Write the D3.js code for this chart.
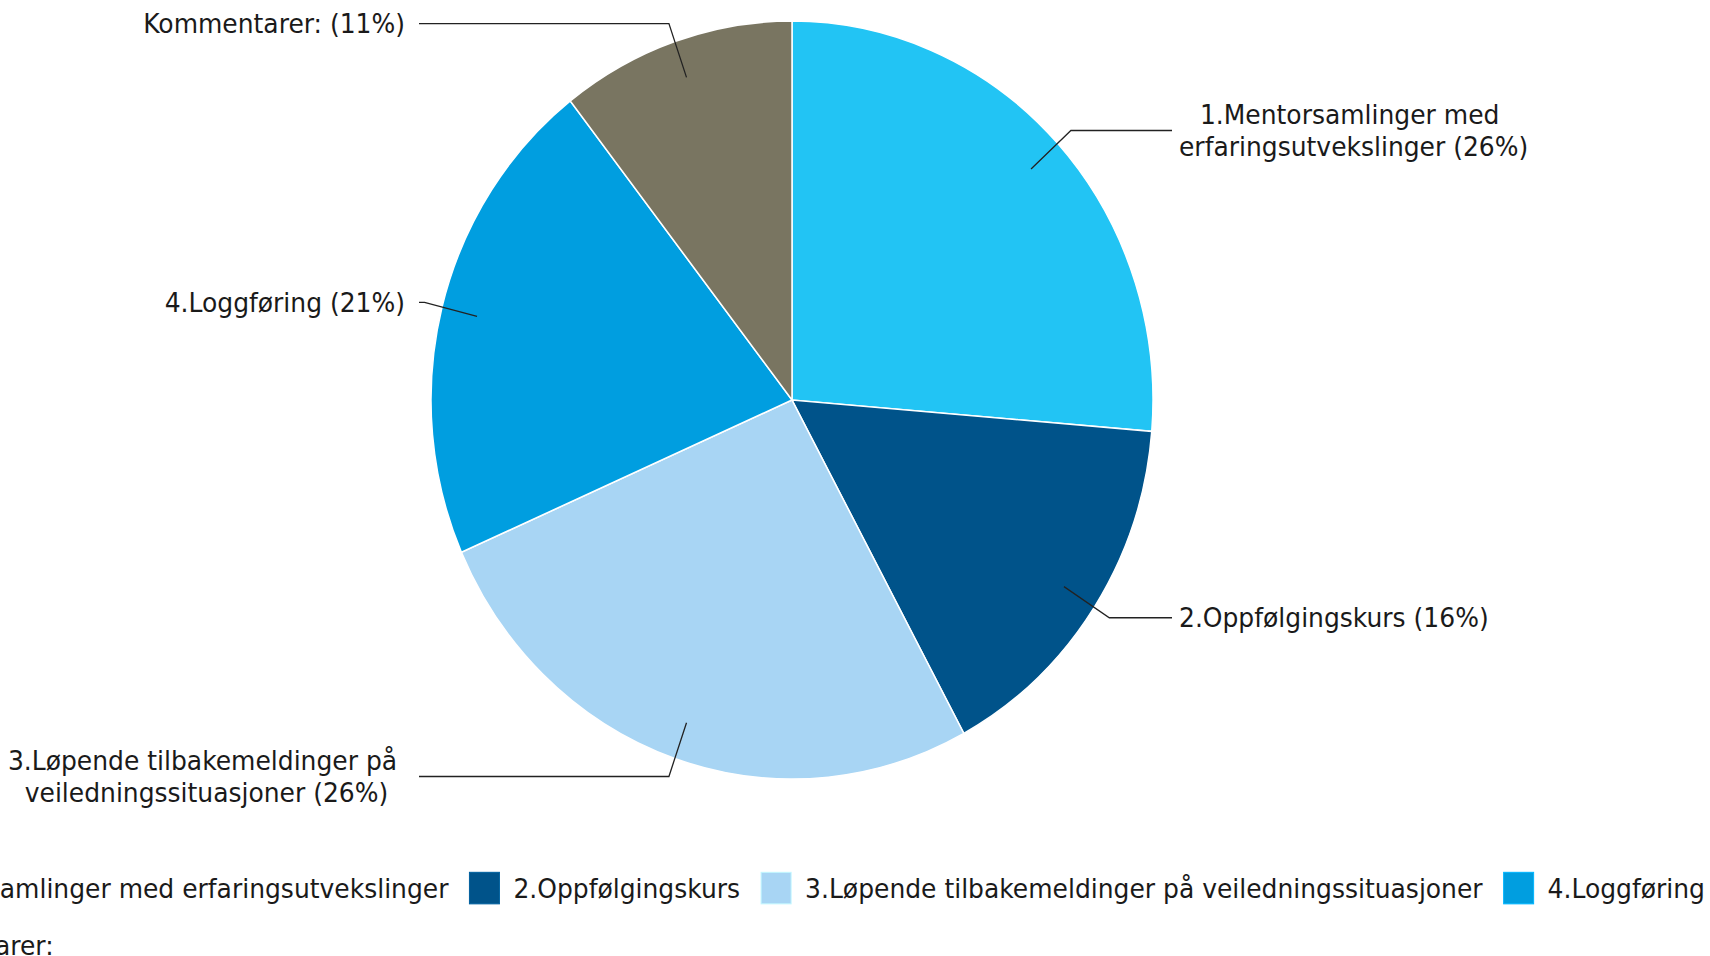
<!doctype html>
<html>
<head>
  <meta charset="utf-8">
  <title>Pie</title>
  <style>
    html, body { margin: 0; padding: 0; background: #fff; overflow: hidden; }
    text { font-family: 'DejaVu Sans', Verdana, sans-serif; fill: #1a1a1a; }
  </style>
</head>
<body>
  <div id="chart"></div>
  <script src="https://cdnjs.cloudflare.com/ajax/libs/d3/7.8.5/d3.min.js"></script>
  <script>
    // data
    var categories = [
      "1.Mentorsamlinger med erfaringsutvekslinger",
      "2.Oppfølgingskurs",
      "3.Løpende tilbakemeldinger på veiledningssituasjoner",
      "4.Loggføring",
      "Kommentarer:"
    ];
    var values = [5, 3, 5, 4, 2];
    var colors = ["#22c4f4", "#00538a", "#a8d5f4", "#009ee0", "#797561"];

    var width = 1710, height = 956;
    var stretch = 1.05; // picture is slightly taller than wide
    var vh = height / stretch;
    var cx = 792, cy = 381, R = 361;
    var fontSize = 25, lineH = 30.5;

    var svg = d3.select("#chart").append("svg")
      .attr("width", width).attr("height", height)
      .attr("viewBox", `0 0 ${width} ${vh}`)
      .attr("preserveAspectRatio", "none");

    var total = d3.sum(values);
    var data = values.map((v, i) => ({ name: categories[i], value: v, color: colors[i] }));
    var pie = d3.pie().sort(null).value(d => d.value);
    var arcs = pie(data);

    var arc = d3.arc().innerRadius(0).outerRadius(R);
    var innerArc = d3.arc().innerRadius(R * 0.9).outerRadius(R * 0.9);
    var outerArc = d3.arc().innerRadius(R * 1.05).outerRadius(R * 1.05);

    var g = svg.append("g").attr("transform", `translate(${cx},${cy})`);

    g.selectAll("path.slice")
      .data(arcs)
      .join("path")
      .attr("class", "slice")
      .attr("d", arc)
      .attr("fill", d => d.data.color)
      .attr("stroke", "#fff")
      .attr("stroke-width", 1.5);

    // labels with leader lines
    var rightX = 1172 - cx, leftX = 419 - cx;
    var labels = svg.append("g").attr("transform", `translate(${cx},${cy})`);

    function measure(str) {
      var t = svg.append("text").attr("font-size", fontSize).text(str);
      var w = t.node().getComputedTextLength();
      t.remove();
      return w;
    }

    function wrap(str, maxW) {
      var words = str.split(" "), lines = [], cur = "";
      words.forEach(w => {
        var test = cur ? cur + " " + w : w;
        if (cur && measure(test) > maxW) { lines.push(cur + "\u00A0"); cur = w; }
        else cur = test;
      });
      lines.push(cur);
      return lines;
    }

    arcs.forEach(d => {
      var mid = (d.startAngle + d.endAngle) / 2;
      var right = mid < Math.PI;
      var p0 = innerArc.centroid(d), p1 = outerArc.centroid(d);
      var xEnd = right ? rightX : leftX;

      labels.append("polyline")
        .attr("points", [p0, p1, [xEnd, p1[1]]].map(p => p.join(",")).join(" "))
        .attr("fill", "none")
        .attr("stroke", "#222")
        .attr("stroke-width", 1.3);

      var pct = Math.round(d.data.value / total * 100);
      var lines = wrap(`${d.data.name} (${pct}%)`, 405);
      var blockW = d3.max(lines, measure);
      var centerX = right ? xEnd + 7 + blockW / 2 : xEnd - 14 - blockW / 2;

      var txt = labels.append("text")
        .attr("font-size", fontSize)
        .attr("text-anchor", "middle");
      lines.forEach((l, i) => {
        txt.append("tspan")
          .attr("x", centerX)
          .attr("y", p1[1] + (i - (lines.length - 1) / 2) * lineH)
          .attr("dy", "0.36em")
          .text(l);
      });
    });

    // legend (wider than the page, overflows on the left)
    var sw = 30, gapText = 14, gapItem = 21;
    var rows = [data.slice(0, 4), data.slice(4)];
    var rowBase = [855.5, 909.5];
    var row1W = d3.sum(rows[0], d => sw + gapText + measure(d.name) + gapItem) - gapItem;
    var x0 = 1705 - row1W;

    var legend = svg.append("g").attr("class", "legend");
    rows.forEach((row, r) => {
      var x = x0;
      row.forEach(d => {
        var item = legend.append("g").attr("transform", `translate(${x},${rowBase[r]})`);
        item.append("rect")
          .attr("x", 0).attr("y", -24.7)
          .attr("width", sw).attr("height", sw)
          .attr("fill", d.color)
          .attr("stroke", d3.color(d.color).brighter(0.4))
          .attr("stroke-width", 1);
        item.append("text")
          .attr("x", sw + gapText)
          .attr("y", 0)
          .attr("font-size", fontSize)
          .text(d.name);
        x += sw + gapText + measure(d.name) + gapItem;
      });
    });
  </script>
</body>
</html>
